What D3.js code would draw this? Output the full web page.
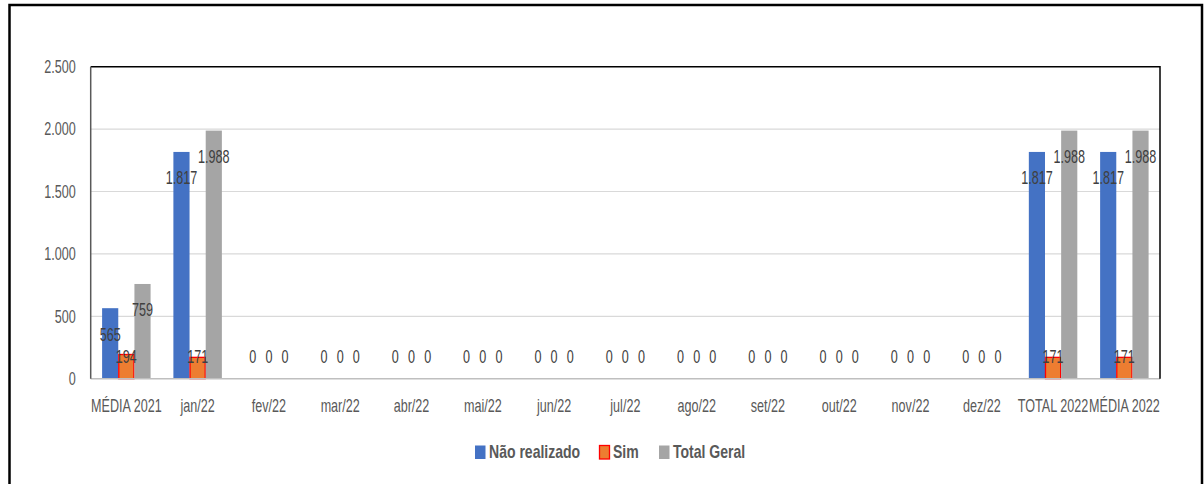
<!DOCTYPE html>
<html>
<head>
<meta charset="utf-8">
<script src="https://cdn.jsdelivr.net/npm/d3@7"></script>
<style>
  html, body { margin: 0; padding: 0; background: #fff; }
  svg { display: block; }
</style>
</head>
<body>
<svg id="chart" width="1204" height="484"></svg>
<script>
const categories = ["MÉDIA 2021", "jan/22", "fev/22", "mar/22", "abr/22", "mai/22", "jun/22", "jul/22", "ago/22", "set/22", "out/22", "nov/22", "dez/22", "TOTAL 2022", "MÉDIA 2022"];
const seriesNames = ["Não realizado", "Sim", "Total Geral"];
const naoRealizado = [565, 1817, 0, 0, 0, 0, 0, 0, 0, 0, 0, 0, 0, 1817, 1817];
const sim = [194, 171, 0, 0, 0, 0, 0, 0, 0, 0, 0, 0, 0, 171, 171];
const totalGeral = [759, 1988, 0, 0, 0, 0, 0, 0, 0, 0, 0, 0, 0, 1988, 1988];
const yTicks = [0, 500, 1000, 1500, 2000, 2500];

const seriesValues = [naoRealizado, sim, totalGeral];
const fills = ["#4472C4", "#ED7D31", "#A5A5A5"];
const strokes = ["none", "#FF0000", "none"];

const svg = d3.select("#chart");
const plot = { left: 90.7, right: 1160, top: 66.7, bottom: 378.7 };
const SX = 0.7;       // horizontal condensing of text
const FONT = "'Liberation Sans', Arial, sans-serif";

const fmt = d3.formatLocale({ decimal: ",", thousands: ".", grouping: [3], currency: ["R$", ""] }).format(",d");

// outer border
svg.append("rect").attr("x", 9.5).attr("y", 5).attr("width", 1192.5).attr("height", 500)
  .attr("fill", "none").attr("stroke", "#000").attr("stroke-width", 2.5);

const x = d3.scaleBand().domain(categories).range([plot.left, plot.right]).paddingInner(0).paddingOuter(0);
const y = d3.scaleLinear().domain([0, 2500]).range([plot.bottom, plot.top]);
const groupW = x.bandwidth() * 0.68;
const xs = d3.scaleBand().domain(seriesNames).range([0, groupW]).padding(0);

// gridlines
svg.append("g").selectAll("line").data(yTicks.filter(t => t > 0 && t < 2500)).join("line")
  .attr("x1", plot.left).attr("x2", plot.right)
  .attr("y1", d => y(d)).attr("y2", d => y(d))
  .attr("stroke", "#D9D9D9").attr("stroke-width", 1.2);

// bars
const groups = svg.append("g").selectAll("g").data(categories).join("g")
  .attr("transform", d => `translate(${x(d) + (x.bandwidth() - groupW) / 2},0)`);

groups.each(function (cat, ci) {
  const g = d3.select(this);
  seriesNames.forEach((s, si) => {
    const v = seriesValues[si][ci];
    if (v > 0) {
      g.append("rect")
        .attr("x", xs(s) + (si === 1 ? 0.5 : 0))
        .attr("y", y(v))
        .attr("width", xs.bandwidth() - (si === 1 ? 1 : 0))
        .attr("height", y(0) - y(v))
        .attr("fill", fills[si])
        .attr("stroke", strokes[si])
        .attr("stroke-width", si === 1 ? 1.3 : 0);
    }
  });
});

// axis lines / frame
svg.append("line").attr("x1", plot.left).attr("x2", plot.right).attr("y1", plot.bottom).attr("y2", plot.bottom)
  .attr("stroke", "#BFBFBF").attr("stroke-width", 1.5);
svg.append("path")
  .attr("d", `M${plot.left},${plot.top}H${plot.right}V${plot.bottom}`)
  .attr("fill", "none").attr("stroke", "#000").attr("stroke-width", 1.5);
svg.append("line").attr("x1", plot.left).attr("x2", plot.left).attr("y1", plot.top).attr("y2", plot.bottom)
  .attr("stroke", "#595959").attr("stroke-width", 1.5);

// y axis
const yAxis = d3.axisLeft(y).tickValues(yTicks).tickSize(0).tickPadding(15).tickFormat(d => fmt(d));
const gy = svg.append("g").attr("transform", `translate(${plot.left},0)`).call(yAxis);
gy.select(".domain").remove();
gy.selectAll("text")
  .attr("x", -15 / SX)
  .attr("transform", `scale(${SX},1)`)
  .attr("fill", "#595959").attr("font-size", 18).attr("font-family", FONT);

// x axis
const xAxis = d3.axisBottom(x).tickSize(0).tickPadding(21);
const gx = svg.append("g").attr("transform", `translate(0,${plot.bottom})`).call(xAxis);
gx.select(".domain").remove();
gx.selectAll("text")
  .attr("transform", `scale(${SX},1)`)
  .attr("fill", "#595959").attr("font-size", 18).attr("font-family", FONT);

// data labels
groups.each(function (cat, ci) {
  const g = d3.select(this);
  seriesNames.forEach((s, si) => {
    const v = seriesValues[si][ci];
    const cx = xs(s) + xs.bandwidth() / 2;
    const cy = Math.min(y(v) + 26, y(0) - 22);
    g.append("text")
      .attr("transform", `translate(${cx},${cy}) scale(${SX},1)`)
      .attr("text-anchor", "middle").attr("dy", "0.36em")
      .attr("fill", "#404040").attr("font-size", 18).attr("font-family", FONT)
      .text(fmt(v));
  });
});

// legend
const legendX = [475, 599, 659];
const legend = svg.append("g");
seriesNames.forEach((s, si) => {
  legend.append("rect")
    .attr("x", legendX[si] + (si === 1 ? 0.5 : 0)).attr("y", 445.5)
    .attr("width", si === 1 ? 10 : 10.5).attr("height", 13.5)
    .attr("fill", fills[si]).attr("stroke", strokes[si]).attr("stroke-width", si === 1 ? 1.3 : 0);
  legend.append("text")
    .attr("transform", `translate(${legendX[si] + 14},452) scale(0.78,1)`)
    .attr("dy", "0.36em")
    .attr("fill", "#595959").attr("font-size", 18).attr("font-weight", "bold").attr("font-family", FONT)
    .text(s);
});
</script>
</body>
</html>
